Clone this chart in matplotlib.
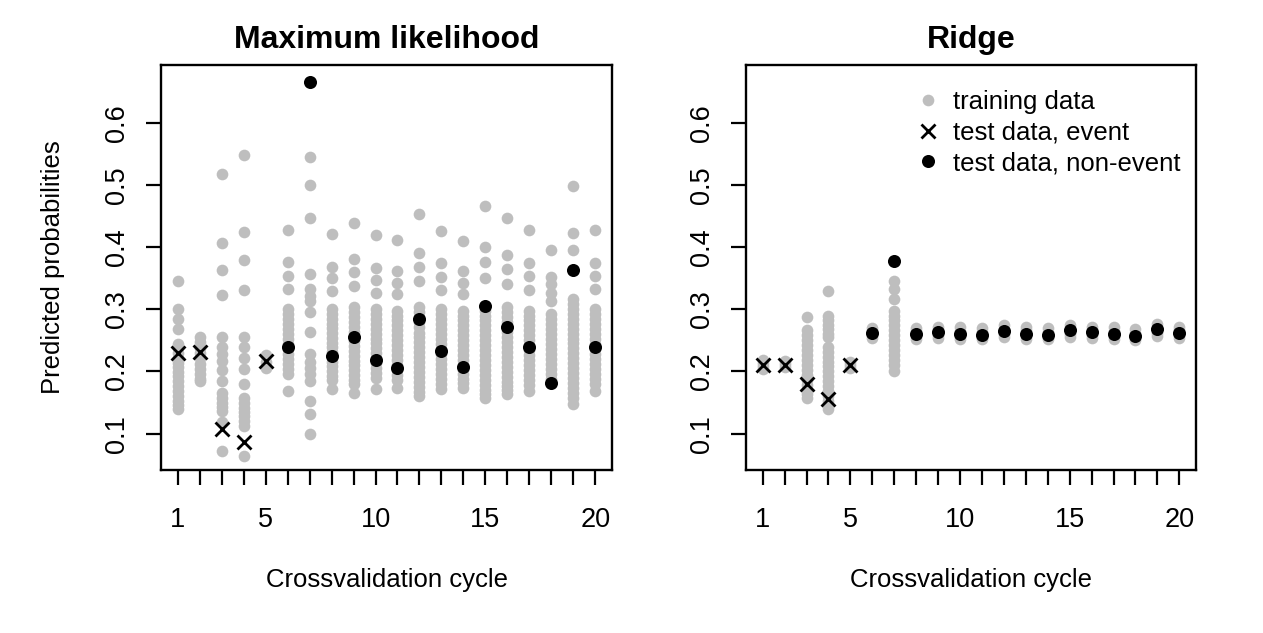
import matplotlib
matplotlib.use("Agg")
import matplotlib.pyplot as plt

plt.rcParams['font.family'] = ['Liberation Sans', 'DejaVu Sans']

cycles = list(range(1, 21))
xtick_labels = ['1', '', '', '', '5', '', '', '', '', '10', '', '', '', '', '15', '', '', '', '', '20']
yticks = [0.1, 0.2, 0.3, 0.4, 0.5, 0.6]

# Maximum likelihood: predicted probabilities of training data per cycle
ml_train = [
    [0.346, 0.300, 0.284, 0.268, 0.244, 0.237, 0.229, 0.221, 0.214, 0.207, 0.199, 0.192, 0.184, 0.176, 0.169, 0.161, 0.153, 0.146, 0.139],
    [0.255, 0.247, 0.238, 0.229, 0.221, 0.212, 0.204, 0.196, 0.188, 0.185],
    [0.518, 0.406, 0.364, 0.323, 0.255, 0.240, 0.228, 0.217, 0.202, 0.185, 0.166, 0.158, 0.150, 0.143, 0.137, 0.118, 0.072],
    [0.549, 0.424, 0.380, 0.331, 0.255, 0.240, 0.222, 0.204, 0.180, 0.158, 0.150, 0.142, 0.135, 0.128, 0.120, 0.113, 0.064],
    [0.226, 0.215, 0.205],
    [0.428, 0.376, 0.354, 0.333, 0.300, 0.292, 0.284, 0.276, 0.268, 0.260, 0.252, 0.244, 0.236, 0.228, 0.220, 0.212, 0.204, 0.196, 0.169],
    [0.545, 0.500, 0.447, 0.357, 0.333, 0.322, 0.314, 0.295, 0.263, 0.228, 0.215, 0.206, 0.196, 0.185, 0.153, 0.132, 0.100],
    [0.421, 0.368, 0.350, 0.330, 0.300, 0.293, 0.285, 0.277, 0.270, 0.262, 0.254, 0.246, 0.239, 0.231, 0.224, 0.216, 0.208, 0.200, 0.193, 0.186, 0.172],
    [0.439, 0.381, 0.360, 0.338, 0.303, 0.296, 0.288, 0.280, 0.272, 0.264, 0.256, 0.249, 0.241, 0.233, 0.225, 0.217, 0.210, 0.202, 0.194, 0.186, 0.180, 0.166],
    [0.419, 0.367, 0.347, 0.327, 0.300, 0.292, 0.285, 0.277, 0.269, 0.261, 0.253, 0.246, 0.238, 0.230, 0.222, 0.214, 0.206, 0.198, 0.190, 0.172],
    [0.411, 0.362, 0.343, 0.325, 0.298, 0.290, 0.282, 0.274, 0.266, 0.258, 0.250, 0.242, 0.234, 0.226, 0.219, 0.211, 0.203, 0.195, 0.187, 0.174],
    [0.454, 0.390, 0.368, 0.345, 0.303, 0.295, 0.287, 0.279, 0.271, 0.262, 0.255, 0.247, 0.239, 0.231, 0.223, 0.215, 0.207, 0.199, 0.191, 0.183, 0.175, 0.167, 0.160],
    [0.426, 0.374, 0.352, 0.331, 0.300, 0.292, 0.284, 0.276, 0.268, 0.260, 0.252, 0.244, 0.236, 0.228, 0.220, 0.212, 0.204, 0.196, 0.188, 0.180, 0.172],
    [0.410, 0.361, 0.343, 0.325, 0.298, 0.290, 0.282, 0.275, 0.267, 0.259, 0.251, 0.243, 0.235, 0.227, 0.219, 0.211, 0.203, 0.196, 0.188, 0.181, 0.174],
    [0.466, 0.400, 0.376, 0.350, 0.306, 0.298, 0.290, 0.282, 0.274, 0.266, 0.258, 0.250, 0.242, 0.234, 0.226, 0.218, 0.210, 0.202, 0.194, 0.186, 0.178, 0.170, 0.163, 0.157],
    [0.447, 0.387, 0.365, 0.340, 0.303, 0.295, 0.287, 0.279, 0.271, 0.263, 0.255, 0.247, 0.239, 0.231, 0.223, 0.215, 0.207, 0.199, 0.191, 0.183, 0.176, 0.170, 0.163],
    [0.428, 0.374, 0.353, 0.331, 0.298, 0.290, 0.282, 0.274, 0.266, 0.258, 0.250, 0.242, 0.234, 0.226, 0.218, 0.210, 0.202, 0.194, 0.186, 0.178, 0.169],
    [0.396, 0.352, 0.340, 0.327, 0.314, 0.292, 0.284, 0.276, 0.268, 0.260, 0.252, 0.244, 0.236, 0.228, 0.220, 0.212, 0.204, 0.196, 0.188, 0.185],
    [0.498, 0.423, 0.395, 0.317, 0.309, 0.301, 0.293, 0.285, 0.277, 0.269, 0.261, 0.253, 0.245, 0.237, 0.229, 0.221, 0.213, 0.205, 0.197, 0.189, 0.181, 0.173, 0.165, 0.157, 0.147],
    [0.428, 0.374, 0.353, 0.332, 0.300, 0.292, 0.284, 0.276, 0.268, 0.260, 0.252, 0.244, 0.236, 0.228, 0.220, 0.212, 0.204, 0.196, 0.188, 0.180, 0.169],
]
ml_event_cycles = [1, 2, 3, 4, 5]
ml_event_prob = [0.229, 0.232, 0.107, 0.086, 0.217]
ml_nonevent_cycles = list(range(6, 21))
ml_nonevent_prob = [0.240, 0.666, 0.225, 0.256, 0.218, 0.206, 0.284, 0.233, 0.207, 0.305, 0.272, 0.239, 0.181, 0.364, 0.239]

# Ridge
ridge_train = [
    [0.218, 0.213, 0.208, 0.204],
    [0.217, 0.212, 0.207],
    [0.288, 0.266, 0.258, 0.250, 0.242, 0.234, 0.226, 0.218, 0.210, 0.202, 0.194, 0.186, 0.178, 0.170, 0.163, 0.158],
    [0.329, 0.290, 0.283, 0.275, 0.268, 0.260, 0.255, 0.239, 0.232, 0.224, 0.216, 0.208, 0.200, 0.192, 0.184, 0.176, 0.168, 0.160, 0.152, 0.145, 0.139],
    [0.216, 0.211, 0.206],
    [0.270, 0.265, 0.258, 0.254],
    [0.346, 0.332, 0.317, 0.298, 0.290, 0.282, 0.274, 0.266, 0.258, 0.250, 0.242, 0.234, 0.226, 0.218, 0.210, 0.200],
    [0.270, 0.265, 0.258, 0.253],
    [0.272, 0.267, 0.259, 0.254],
    [0.271, 0.265, 0.257, 0.253],
    [0.270, 0.264, 0.256, 0.252],
    [0.274, 0.268, 0.260, 0.255],
    [0.271, 0.266, 0.258, 0.253],
    [0.270, 0.264, 0.256, 0.252],
    [0.274, 0.269, 0.261, 0.256],
    [0.272, 0.267, 0.259, 0.254],
    [0.271, 0.265, 0.257, 0.253],
    [0.268, 0.262, 0.255, 0.251],
    [0.276, 0.270, 0.262, 0.257],
    [0.272, 0.266, 0.258, 0.254],
]
ridge_event_cycles = [1, 2, 3, 4, 5]
ridge_event_prob = [0.211, 0.211, 0.180, 0.156, 0.211]
ridge_nonevent_cycles = list(range(6, 21))
ridge_nonevent_prob = [0.262, 0.378, 0.260, 0.263, 0.260, 0.259, 0.265, 0.261, 0.259, 0.266, 0.263, 0.261, 0.257, 0.268, 0.262]

GRAY = '#BEBEBE'
FS = 18.5
TFS = 19.5

fig = plt.figure(figsize=(12.63, 6.33), dpi=100)
W, H = 1263, 633
ax1 = fig.add_axes([161 / W, (H - 470) / H, 451 / W, 405 / H])
ax2 = fig.add_axes([746 / W, (H - 470) / H, 450 / W, 405 / H])


def draw(ax, train, ev_c, ev_p, ne_c, ne_p, title):
    tx, ty = [], []
    for c, vals in zip(cycles, train):
        tx.extend([c] * len(vals))
        ty.extend(vals)
    h1, = ax.plot(tx, ty, 'o', color=GRAY, markersize=8.4, markeredgewidth=0, linestyle='none')
    h2, = ax.plot(ev_c, ev_p, 'x', color='black', markersize=9.5, markeredgewidth=2.0, linestyle='none')
    h3, = ax.plot(ne_c, ne_p, 'o', color='black', markersize=9.4, markeredgewidth=0, linestyle='none')
    ax.set_xlim(0.24, 20.76)
    ax.set_ylim(0.0415, 0.693)
    ax.set_xticks(cycles)
    ax.set_xticklabels(xtick_labels, fontsize=TFS)
    ax.set_yticks(yticks)
    ax.set_yticklabels([str(v) for v in yticks], fontsize=TFS, rotation=90, va='center')
    ax.tick_params(axis='x', length=11, width=1.6, pad=15.5, direction='out')
    ax.tick_params(axis='y', length=11, width=1.6, pad=11.5, direction='out')
    for s in ax.spines.values():
        s.set_linewidth(1.7)
    ax.set_title(title, fontsize=23, fontweight='bold', pad=12.3)
    ax.set_xlabel('Crossvalidation cycle', fontsize=FS)
    ax.xaxis.set_label_coords(0.5, -0.243)
    return h1, h2, h3


draw(ax1, ml_train, ml_event_cycles, ml_event_prob, ml_nonevent_cycles, ml_nonevent_prob, 'Maximum likelihood')
ax1.set_ylabel('Predicted probabilities', fontsize=FS)
ax1.yaxis.set_label_coords(-0.212, 0.5)

h1, h2, h3 = draw(ax2, ridge_train, ridge_event_cycles, ridge_event_prob, ridge_nonevent_cycles, ridge_nonevent_prob, 'Ridge')
ax2.legend([h1, h2, h3], ['training data', 'test data, event', 'test data, non-event'],
           loc='upper left', bbox_to_anchor=(0.3767, 0.938), frameon=False, fontsize=FS,
           handlelength=1.0, handletextpad=0.47, labelspacing=0.26, borderpad=0, borderaxespad=0)

fig.savefig('out.png', dpi=100)
